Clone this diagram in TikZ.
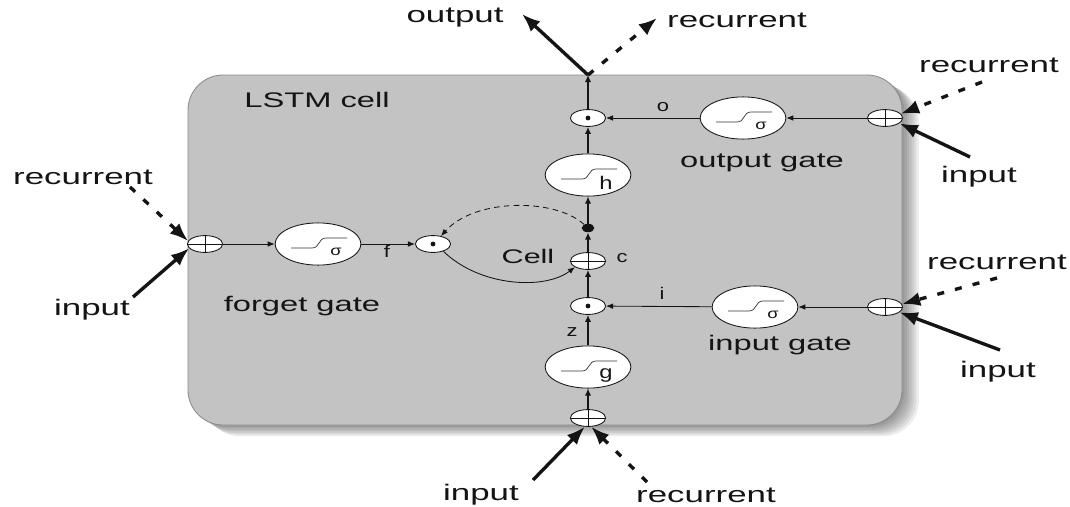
\documentclass[tikz,border=0pt]{standalone}
\usepackage{fontspec}
\setmainfont{Liberation Sans}
\usetikzlibrary{arrows.meta,positioning,calc,shapes.geometric}
\definecolor{Ink}{HTML}{141414}
\definecolor{CellFill}{HTML}{C3C3C3}
\definecolor{CellEdge}{HTML}{8C8C8C}

\begin{document}
\begin{tikzpicture}[x=0.025cm,y=-0.025cm,>=Latex]
\tikzset{gate/.style={ellipse,draw=Ink,fill=white,line width=0.6pt,minimum width=61pt,minimum height=30pt,inner sep=0pt},
  junc/.style={ellipse,draw=Ink,fill=white,line width=0.6pt,minimum width=25pt,minimum height=12pt,inner sep=0pt},
  sumbox/.style={junc,path picture={\draw[line width=0.6pt] (path picture bounding box.north) -- (path picture bounding box.south) (path picture bounding box.west) -- (path picture bounding box.east);}},
  tag/.style={font=\fontsize{16}{18}\selectfont,xscale=1.55,inner sep=1pt,text=Ink},
  gatename/.style={font=\fontsize{15}{17}\selectfont,xscale=1.55,inner sep=1pt,text=Ink},
  sym/.style={font=\fontsize{12}{14}\selectfont,xscale=1.3,inner sep=0pt,text=Ink},
  wire/.style={->,line width=0.6pt,Ink,>={Latex[length=5pt,width=4pt]}},
  spine/.style={->,line width=1.2pt,Ink,>={Latex[length=5pt,width=4.5pt]}},
  feed/.style={->,line width=2.4pt,Ink,>={Latex[length=13pt,width=10pt]}},
  feeddash/.style={feed,dash pattern=on 5pt off 8pt}}
\useasboundingbox (0,0) rectangle (1070,506);
% cell box with a soft shadow
\foreach \s in {1,...,7}
  \fill[black,opacity=0.07,rounded corners=25pt] (188+\s*2.4,75+\s*1.6) rectangle (902+\s*2.4,425+\s*1.6);
\draw[CellEdge,fill=CellFill,rounded corners=25pt,line width=0.6pt] (188,75) rectangle (902,425);
\node[gatename] (cellname) at (317,100) {LSTM cell};

% forget gate row
\node[sumbox] (fplus) at (205,244) {};
\node[gate] (fg) at (318,244) {};
\node[junc] (fdot) at (433,244) {};
\node[gatename] (fname) at (302,306) {forget gate};

% the centre column
\coordinate (top) at (588,75);
\node[junc] (odot) at (588,118) {};
\node[gate] (hg) at (588,175) {};
\node[ellipse,fill=Ink,minimum width=9pt,minimum height=6pt,inner sep=0pt] (cdot) at (588,228) {};
\node[sumbox] (cplus) at (588,261) {};
\node[junc] (idot) at (588,306) {};
\node[gate] (gg) at (588,367) {};
\node[sumbox] (gplus) at (588,418) {};

% output and input gates
\node[gate] (og) at (743,118) {};
\node[sumbox] (oplus) at (885,118) {};
\node[gatename] (oname) at (762,163) {output gate};
\node[gate] (ig) at (755,307) {};
\node[sumbox] (iplus) at (885,307) {};
\node[gatename] (iname) at (780,345) {input gate};

% sigmoid marks
\foreach \g/\s/\fs in {fg/σ/10,og/σ/10,ig/σ/10,hg/h/13,gg/g/13}{
  \draw[line width=0.5pt,Ink!85] ($(\g)+(-27,4)$) -- ++(21,0) .. controls +(8,0) and +(-8,0) .. ++(14,-10) -- ++(21,0);
  \node[sym,font=\fontsize{\fs}{\fs}\selectfont] at ($(\g)+(18,8)$) {\s};
}
\foreach \p in {fdot,odot,idot}
  \fill[Ink] (\p) circle (1.7pt);

% small labels
\node[sym] (flbl) at (387,251) {f};
\node[sym] (olbl) at (663,107) {o};
\node[sym] (ilbl) at (662,293) {i};
\node[sym] (zlbl) at (572,332) {z};
\node[sym] (clbl) at (622,258) {c};
\node[gatename,font=\fontsize{14}{16}\selectfont] (celllbl) at (528,256) {Cell};

% inner connections
\draw[wire] (fplus) -- (fg);
\draw[wire] (fg) -- (fdot);
\draw[wire] (fdot.-35) .. controls (480,287) and (545,290) .. (cplus.205);
\draw[wire,dash pattern=on 4pt off 3pt] (cdot) .. controls (555,198) and (475,198) .. (fdot.45);
\draw[wire] (oplus) -- (og);
\draw[wire] (og) -- (odot);
\draw[wire] (iplus) -- (ig);
\draw[wire] (ig) -- (idot);
\draw[spine] (gplus) -- (gg);
\draw[spine] (gg) -- (idot);
\draw[spine] (idot) -- (cplus);
\draw[spine] (cplus) -- (cdot);
\draw[spine] (cdot) -- (hg);
\draw[spine] (hg) -- (odot);
\draw[spine] (odot) -- (top);

% outputs
\node[tag] (outlbl) at (455,18) {output};
\node[tag] (rectop) at (737,20) {recurrent};
\coordinate (outend) at (522,14);
\coordinate (recend) at (657,18);
\draw[feed] (top) -- (outend);
\draw[feeddash] (top) -- (recend);

% inputs and recurrent feeds
\node[tag] (recf) at (83,177) {recurrent};
\node[tag] (inf) at (92,310) {input};
\coordinate (recfs) at (130,187);
\coordinate (infs) at (133,297);
\draw[feeddash] (recfs) -- (fplus.170);
\draw[feed] (infs) -- (fplus.195);

\node[tag] (reco) at (989,65) {recurrent};
\node[tag] (ino) at (979,177) {input};
\coordinate (recos) at (982,82);
\coordinate (inos) at (970,157);
\draw[feeddash] (recos) -- (oplus.15);
\draw[feed] (inos) -- (oplus.-20);

\node[tag] (reci) at (997,262) {recurrent};
\node[tag] (ini) at (998,372) {input};
\coordinate (recis) at (997,278);
\coordinate (inis) at (1000,350);
\draw[feeddash] (recis) -- (iplus.10);
\draw[feed] (inis) -- (iplus.-20);

\node[tag] (ing) at (481,495) {input};
\node[tag] (recg) at (706,495) {recurrent};
\coordinate (ings) at (533,480);
\coordinate (recgs) at (647,482);
\draw[feed] (ings) -- (gplus.250);
\draw[feeddash] (recgs) -- (gplus.290);
\end{tikzpicture}
\end{document}
